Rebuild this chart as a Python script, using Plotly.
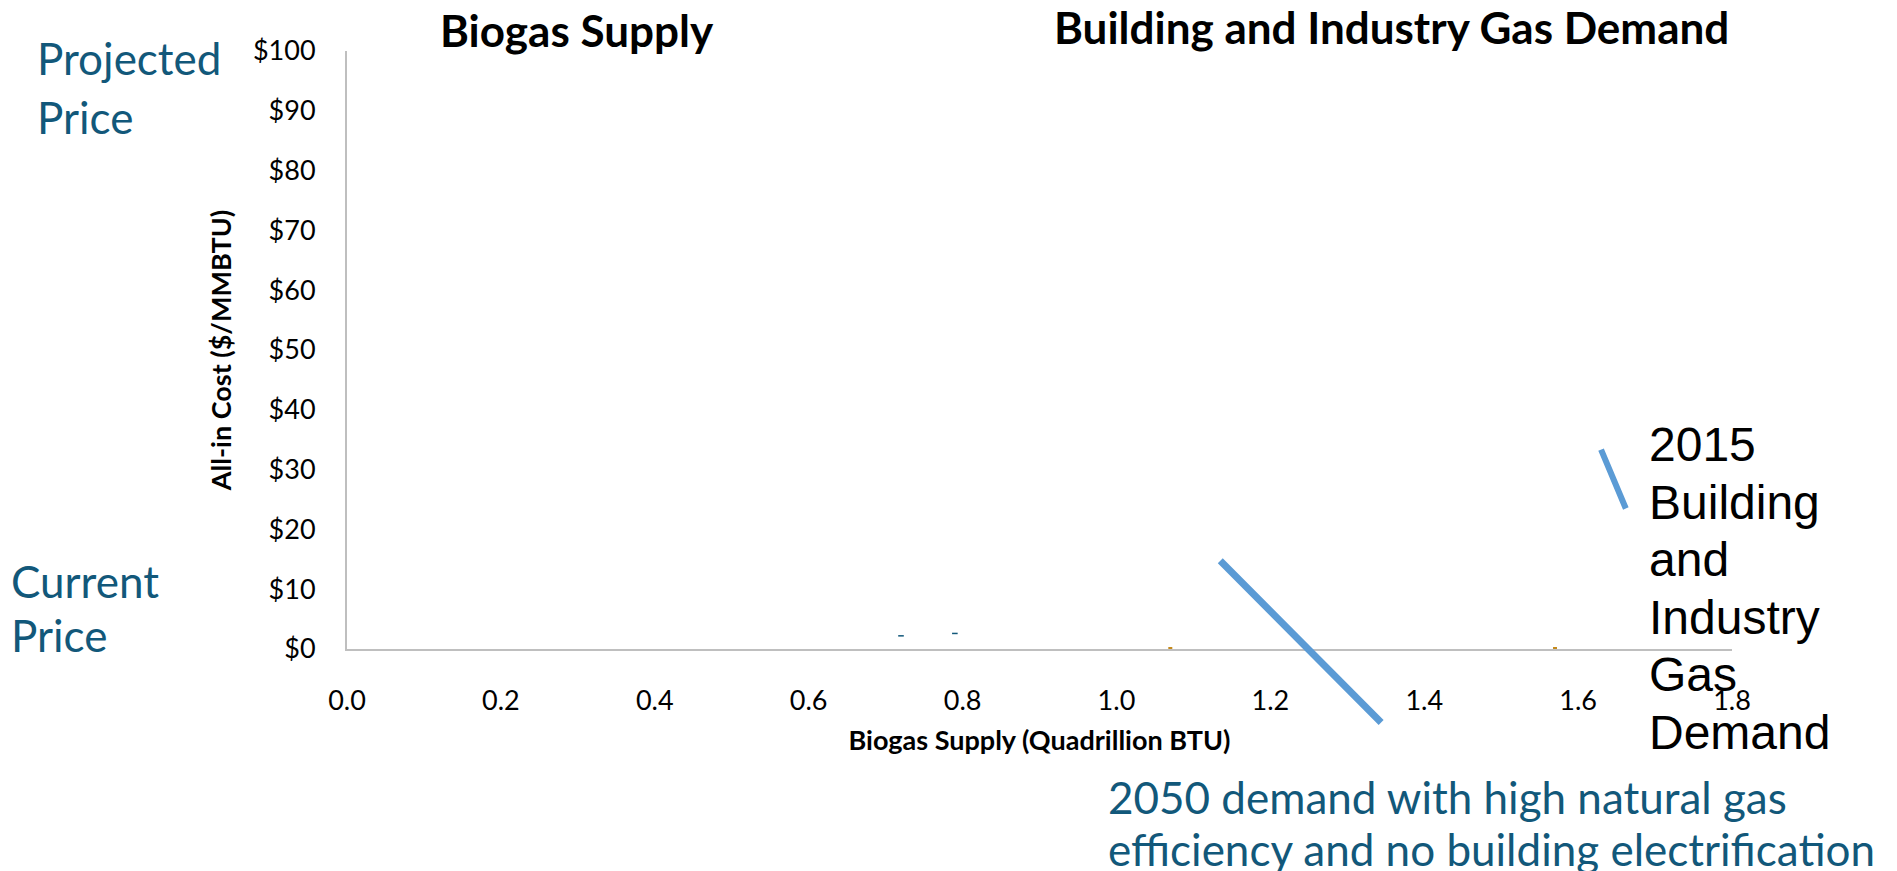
import plotly.graph_objects as go

# ---- data ----
x_ticks = [0.0, 0.2, 0.4, 0.6, 0.8, 1.0, 1.2, 1.4, 1.6, 1.8]
x_tick_labels = ["0.0", "0.2", "0.4", "0.6", "0.8", "1.0", "1.2", "1.4", "1.6", "1.8"]
y_ticks = [0, 10, 20, 30, 40, 50, 60, 70, 80, 90, 100]
y_tick_labels = ["$0", "$10", "$20", "$30", "$40", "$50", "$60", "$70", "$80", "$90", "$100"]

# faint remnants of supply curve points
supply_x = [0.72, 0.79]
supply_y = [2.2, 2.6]
demand_mark_x = [1.07, 1.57]
demand_mark_y = [0, 0]

# pointer lines (data coordinates: start -> end)
arrow_2015_start = (1.629, 33.6)
arrow_2015_end = (1.662, 23.5)
arrow_2050_start = (1.133, 15.0)
arrow_2050_end = (1.344, -12.3)

label_2015_lines = ["2015", "Building", "and", "Industry", "Gas", "Demand"]
label_2050_lines = ["2050 demand with high natural gas",
                    "efficiency and no building electrification"]

TEAL = "#12587A"
BLUE = "#5B9BD5"

fig = go.Figure()
fig.add_trace(go.Scatter(x=supply_x, y=supply_y, mode="markers",
                         marker=dict(color=TEAL, size=4, symbol="line-ew-open",
                                     line=dict(color=TEAL, width=1.5)),
                         showlegend=False, hoverinfo="skip"))
fig.add_trace(go.Scatter(x=demand_mark_x, y=demand_mark_y, mode="markers",
                         marker=dict(color="#C58A1C", size=4, symbol="square"),
                         showlegend=False, hoverinfo="skip", cliponaxis=False))

for (sx, sy), (ex, ey), w in [(arrow_2015_start, arrow_2015_end, 6),
                              (arrow_2050_start, arrow_2050_end, 7)]:
    fig.add_annotation(x=ex, y=ey, ax=sx, ay=sy, xref="x", yref="y",
                       axref="x", ayref="y", text="", showarrow=True,
                       arrowhead=0, arrowwidth=w, arrowcolor=BLUE,
                       standoff=0, startstandoff=0)

title_font = dict(family="Lato", size=44, color="black")
fig.add_annotation(x=0.166, y=1.035, xref="paper", yref="paper",
                   text="<b>Biogas Supply</b>", showarrow=False,
                   xanchor="center", yanchor="middle", font=title_font)
fig.add_annotation(x=0.7545, y=1.040, xref="paper", yref="paper",
                   text="<b>Building and Industry Gas Demand</b>", showarrow=False,
                   xanchor="center", yanchor="middle", font=title_font)

teal_font = dict(family="Lato", size=44, color=TEAL)
for txt, px, py in [("Projected", 35, 58), ("Price", 35, 117),
                    ("Current", 9, 581), ("Price", 9, 635)]:
    fig.add_annotation(x=(px - 347) / 1385, y=(648.5 - py) / 597.7,
                       xref="paper", yref="paper", text=txt, showarrow=False,
                       xanchor="left", yanchor="middle", font=teal_font)

for i, txt in enumerate(label_2015_lines):
    py = 444 + 57.6 * i
    fig.add_annotation(x=(1647 - 347) / 1385, y=(648.5 - py) / 597.7,
                       xref="paper", yref="paper", text=txt,
                       showarrow=False, xanchor="left", yanchor="middle",
                       font=dict(family="Liberation Sans", size=48, color="black"))

for i, txt in enumerate(label_2050_lines):
    py = 796 + 52 * i
    fig.add_annotation(x=(1106 - 347) / 1385, y=(648.5 - py) / 597.7,
                       xref="paper", yref="paper", text=txt,
                       showarrow=False, xanchor="left", yanchor="middle",
                       font=dict(family="Lato", size=44, color=TEAL))

fig.update_layout(
    width=1897, height=871,
    margin=dict(l=347, r=165, t=51, b=222),
    paper_bgcolor="white", plot_bgcolor="white",
    showlegend=False,
    xaxis=dict(range=[0, 1.8], tickvals=x_ticks, ticktext=x_tick_labels,
               showgrid=False, zeroline=False, showline=True, linecolor="#BFBFBF",
               linewidth=2, ticks="", ticklabelstandoff=27,
               tickfont=dict(family="Lato", size=27, color="black"),
               title=dict(text="<b>Biogas Supply (Quadrillion BTU)</b>", standoff=16,
                          font=dict(family="Lato", size=27, color="black"))),
    yaxis=dict(range=[0, 100], tickvals=y_ticks, ticktext=y_tick_labels,
               showgrid=False, zeroline=False, showline=True, linecolor="#BFBFBF",
               linewidth=2, ticks="", ticklabelstandoff=24,
               tickfont=dict(family="Lato", size=27, color="black"),
               title=dict(text="<b>All-in Cost ($/MMBTU)</b>", standoff=14,
                          font=dict(family="Lato", size=27, color="black"))),
)

fig.write_html("out.html")
